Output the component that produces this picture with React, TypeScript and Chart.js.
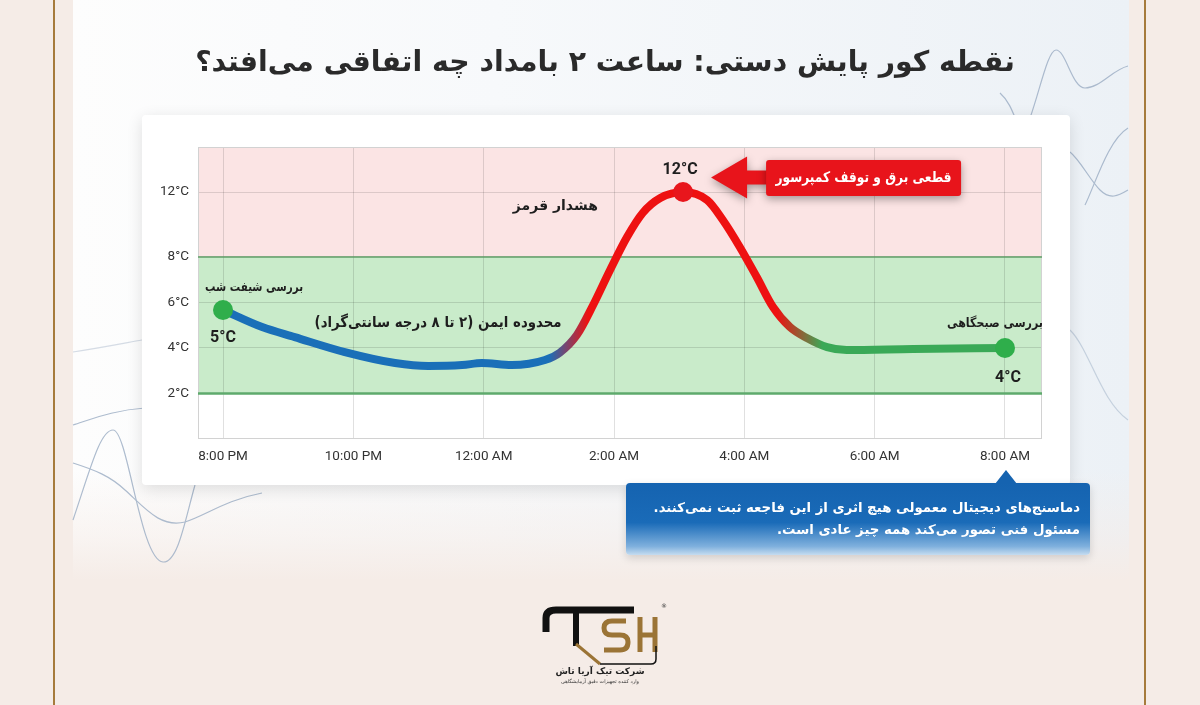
import React, { useEffect, useRef } from 'react';
import { Chart, registerables, LinearScale } from 'chart.js';

// ---------- data ----------
const hours = [0, 0.6, 1.1, 1.87, 2.64, 3.15, 3.67, 3.97, 4.43, 4.94, 5.17, 5.43, 5.68, 5.94, 6.2, 6.44, 6.71, 7.06, 7.43, 7.67, 7.93, 8.19, 8.44, 8.7, 8.96, 9.27, 9.57, 10.59, 12];
const temps = [5.67, 4.92, 4.48, 3.82, 3.34, 3.21, 3.25, 3.34, 3.25, 3.47, 3.8, 4.57, 5.89, 7.43, 9.23, 10.71, 11.63, 12.0, 11.5, 10.28, 8.62, 7.12, 5.8, 4.92, 4.44, 4.04, 3.91, 3.96, 4.0];
const markedIndices = [0, 17, 28];
const markedColors = ['#2fae4b', '#e8161c', '#2fae4b'];

const xTickValues = [0, 2, 4, 6, 8, 10, 12];
const xTickLabels = ['8:00 PM', '10:00 PM', '12:00 AM', '2:00 AM', '4:00 AM', '6:00 AM', '8:00 AM'];
const yTickValues = [2, 4, 6, 8, 12];
const yTickLabels = ['2°C', '4°C', '6°C', '8°C', '12°C'];

const safeMin = 2;
const safeMax = 8;

// axis break: the red (alarm) part of the axis is compressed
const yBreakValues = [0, 8, 14.77];
const yBreakFractions = [0, 0.6233, 1];

const titleText = 'نقطه کور پایش دستی: ساعت ۲ بامداد چه اتفاقی می‌افتد؟';
const startLabel = 'بررسی شیفت شب';
const startValueLabel = '5°C';
const safeZoneLabel = 'محدوده ایمن (۲ تا ۸ درجه سانتی‌گراد)';
const alarmZoneLabel = 'هشدار قرمز';
const peakValueLabel = '12°C';
const peakCallout = 'قطعی برق و توقف کمپرسور';
const endLabel = 'بررسی صبحگاهی';
const endValueLabel = '4°C';
const noteLines = [
  'دماسنج‌های دیجیتال معمولی هیچ اثری از این فاجعه ثبت نمی‌کنند.',
  'مسئول فنی تصور می‌کند همه چیز عادی است.',
];

// ---------- custom broken linear scale ----------
function valueToFraction(v: number): number {
  for (let i = 1; i < yBreakValues.length; i++) {
    if (v <= yBreakValues[i] || i === yBreakValues.length - 1) {
      const v0 = yBreakValues[i - 1], v1 = yBreakValues[i];
      const f0 = yBreakFractions[i - 1], f1 = yBreakFractions[i];
      return f0 + ((v - v0) / (v1 - v0)) * (f1 - f0);
    }
  }
  return 0;
}
function fractionToValue(f: number): number {
  for (let i = 1; i < yBreakFractions.length; i++) {
    if (f <= yBreakFractions[i] || i === yBreakFractions.length - 1) {
      const v0 = yBreakValues[i - 1], v1 = yBreakValues[i];
      const f0 = yBreakFractions[i - 1], f1 = yBreakFractions[i];
      return v0 + ((f - f0) / (f1 - f0)) * (v1 - v0);
    }
  }
  return 0;
}

class BrokenLinearScale extends LinearScale {
  static id = 'brokenLinear';
  static defaults = LinearScale.defaults;
  getPixelForValue(value: number) {
    return this.getPixelForDecimal(valueToFraction(value));
  }
  getValueForPixel(pixel: number) {
    return fractionToValue(this.getDecimalForPixel(pixel));
  }
}

Chart.register(...registerables, BrokenLinearScale as any);

const PERSIAN_FONT = '"DejaVu Sans", "Noto Sans", sans-serif';
const LATIN_FONT = 'Roboto, "Liberation Sans", sans-serif';

const zonesPlugin = {
  id: 'zones',
  beforeDraw(chart: any) {
    const { ctx, chartArea, scales } = chart;
    const { left, right, top } = chartArea;
    const y = scales.y;
    const y8 = y.getPixelForValue(safeMax);
    const y2 = y.getPixelForValue(safeMin);
    ctx.save();
    ctx.fillStyle = '#fbe4e4';
    ctx.fillRect(left, top, right - left, y8 - top);
    ctx.fillStyle = '#c9ebca';
    ctx.fillRect(left, y8, right - left, y2 - y8);
    ctx.restore();
  },
  beforeDatasetsDraw(chart: any) {
    const { ctx, chartArea, scales } = chart;
    const { left, right, top, bottom } = chartArea;
    const y = scales.y;
    const y8 = y.getPixelForValue(safeMax);
    const y2 = y.getPixelForValue(safeMin);
    ctx.save();
    ctx.strokeStyle = '#d2d2d2';
    ctx.lineWidth = 1;
    ctx.strokeRect(left + 0.5, top + 0.5, right - left - 1, bottom - top - 1);
    ctx.strokeStyle = '#5f9f67';
    ctx.lineWidth = 1.6;
    ctx.beginPath();
    ctx.moveTo(left, y8);
    ctx.lineTo(right, y8);
    ctx.stroke();
    ctx.strokeStyle = '#5eaa6c';
    ctx.lineWidth = 2.5;
    ctx.beginPath();
    ctx.moveTo(left, y2);
    ctx.lineTo(right, y2);
    ctx.stroke();
    ctx.restore();
  },
  afterDatasetsDraw(chart: any) {
    const { ctx, scales } = chart;
    const x = scales.x;
    const y = scales.y;
    const px = (i: number) => x.getPixelForValue(hours[i]);
    const py = (i: number) => y.getPixelForValue(temps[i]);
    const iStart = markedIndices[0];
    const iPeak = markedIndices[1];
    const iEnd = markedIndices[2];

    const text = (t: string, cx: number, cy: number, size: number, rtl: boolean, maxW?: number, color = '#1e1e1e') => {
      ctx.save();
      ctx.font = `bold ${size}px ${rtl ? PERSIAN_FONT : LATIN_FONT}`;
      ctx.direction = rtl ? 'rtl' : 'ltr';
      ctx.textAlign = 'center';
      ctx.textBaseline = 'middle';
      ctx.fillStyle = color;
      if (maxW) ctx.fillText(t, cx, cy, maxW);
      else ctx.fillText(t, cx, cy);
      ctx.restore();
    };

    text(startLabel, px(iStart) + 31, py(iStart) - 22, 13, true, 98);
    text(startValueLabel, px(iStart), py(iStart) + 28, 16, false);
    text(safeZoneLabel, x.getPixelForValue(3.3), y.getPixelForValue(5.1), 15, true, 247);
    text(alarmZoneLabel, x.getPixelForValue(5.1), y.getPixelForValue(11.14), 14, true, 90);
    text(peakValueLabel, px(iPeak) - 3, py(iPeak) - 22, 16, false);
    text(endLabel, px(iEnd) - 10, py(iEnd) - 24, 13, true, 96);
    text(endValueLabel, px(iEnd) + 3, py(iEnd) + 30, 16, false);

    // red arrow callout
    const tx = px(iPeak) + 28;
    const ty = py(iPeak) - 14.5;
    const bx = tx + 55;
    const bw = 195;
    ctx.save();
    ctx.fillStyle = '#e8141b';
    ctx.shadowColor = 'rgba(0,0,0,0.35)';
    ctx.shadowBlur = 9;
    ctx.shadowOffsetY = 3;
    ctx.beginPath();
    ctx.moveTo(tx, ty);
    ctx.lineTo(tx + 36, ty - 21);
    ctx.lineTo(tx + 36, ty - 7);
    ctx.lineTo(bx + 4, ty - 7);
    ctx.lineTo(bx + 4, ty + 7);
    ctx.lineTo(tx + 36, ty + 7);
    ctx.lineTo(tx + 36, ty + 21);
    ctx.closePath();
    ctx.fill();
    ctx.beginPath();
    (ctx as any).roundRect(bx, ty - 17.5, bw, 36, 3);
    ctx.fill();
    ctx.restore();
    text(peakCallout, bx + bw / 2, ty + 0.5, 14.5, true, 176, '#ffffff');
  },
};

let gradientCache: any = null;
function curveColor(context: any) {
  const chart = context.chart;
  const { chartArea, scales } = chart;
  if (!chartArea || !scales.x) return '#1a6fb8';
  const x = scales.x;
  const x0 = x.getPixelForValue(hours[0]);
  const x1 = x.getPixelForValue(hours[hours.length - 1]);
  const key = `${x0}-${x1}`;
  if (gradientCache && gradientCache.key === key) return gradientCache.g;
  const g = chart.ctx.createLinearGradient(x0, 0, x1, 0);
  const f = (h: number) => (h - hours[0]) / (hours[hours.length - 1] - hours[0]);
  g.addColorStop(0, '#1a6fb8');
  g.addColorStop(f(5.0), '#1a6fb8');
  g.addColorStop(f(5.6), '#ee1111');
  g.addColorStop(f(8.5), '#ee1111');
  g.addColorStop(f(9.2), '#3aa957');
  g.addColorStop(1, '#3aa957');
  gradientCache = { key, g };
  return g;
}

function TempChart() {
  const canvasRef = useRef<HTMLCanvasElement | null>(null);
  useEffect(() => {
    if (!canvasRef.current) return;
    const chart = new Chart(canvasRef.current, {
      type: 'line',
      data: {
        datasets: [
          {
            data: hours.map((h, i) => ({ x: h, y: temps[i] })),
            borderColor: curveColor,
            borderWidth: 8,
            borderCapStyle: 'round',
            borderJoinStyle: 'round',
            cubicInterpolationMode: 'monotone',
            fill: false,
            pointRadius: (c: any) => (markedIndices.includes(c.dataIndex) ? 10 : 0),
            pointHoverRadius: (c: any) => (markedIndices.includes(c.dataIndex) ? 10 : 0),
            pointBackgroundColor: (c: any) => {
              const k = markedIndices.indexOf(c.dataIndex);
              return k >= 0 ? markedColors[k] : 'transparent';
            },
            pointBorderWidth: 0,
          } as any,
        ],
      },
      options: {
        animation: false,
        responsive: false,
        maintainAspectRatio: false,
        layout: { padding: { top: 32, right: 28, left: 0, bottom: 0 } },
        plugins: { legend: { display: false }, tooltip: { enabled: false }, title: { display: false } },
        scales: {
          x: {
            type: 'linear',
            min: -0.384,
            max: 12.568,
            afterBuildTicks: (s: any) => {
              s.ticks = xTickValues.map((v) => ({ value: v }));
            },
            afterFit: (s: any) => {
              s.height = 46;
            },
            ticks: {
              callback: (v: any) => {
                const k = xTickValues.indexOf(Number(v));
                return k >= 0 ? xTickLabels[k] : '';
              },
              color: '#333333',
              font: { family: LATIN_FONT, size: 13.5 },
              padding: 10,
              maxRotation: 0,
              autoSkip: false,
            },
            grid: { color: 'rgba(0,0,0,0.12)', drawTicks: false, lineWidth: 1 },
            border: { display: false },
          },
          y: {
            type: 'brokenLinear' as any,
            min: yBreakValues[0],
            max: yBreakValues[yBreakValues.length - 1],
            afterBuildTicks: (s: any) => {
              s.ticks = yTickValues.map((v) => ({ value: v }));
            },
            afterFit: (s: any) => {
              s.width = 56;
            },
            ticks: {
              callback: (v: any) => {
                const k = yTickValues.indexOf(Number(v));
                return k >= 0 ? yTickLabels[k] : '';
              },
              color: '#333333',
              font: { family: LATIN_FONT, size: 13.5 },
              padding: 9,
              autoSkip: false,
            },
            grid: { color: 'rgba(0,0,0,0.12)', drawTicks: false, lineWidth: 1 },
            border: { display: false },
          },
        },
      } as any,
      plugins: [zonesPlugin],
    });
    return () => chart.destroy();
  }, []);
  return <canvas ref={canvasRef} width={928} height={370} style={{ width: 928, height: 370, display: 'block' }} />;
}

function Decor() {
  const stroke = '#9fb0c6';
  return (
    <svg width={1200} height={705} style={{ position: 'absolute', left: 0, top: 0 }}>
      <g fill="none" stroke={stroke} strokeWidth={1.2} opacity={0.85}>
        <path d="M73,425 C95,418 115,410 145,408" />
        <path d="M73,520 C90,470 100,430 113,430 C128,430 140,560 163,562 C178,563 185,520 195,485" />
        <path d="M73,463 C95,470 110,476 125,490 C145,508 160,528 185,522 C205,516 225,500 262,493" />
        <path d="M73,352 C100,348 120,344 142,340" opacity={0.5} />
        <path d="M1000,93 C1008,100 1012,110 1016,120" />
        <path d="M1030,118 C1040,90 1048,50 1056,50 C1066,50 1072,88 1085,88 C1100,88 1112,70 1128,66" />
        <path d="M1070,152 C1080,160 1090,180 1100,190 C1110,200 1118,196 1128,190" />
        <path d="M1085,205 C1095,185 1108,140 1128,128" />
        <path d="M1070,330 C1090,350 1100,400 1128,420" opacity={0.6} />
      </g>
    </svg>
  );
}

function Logo() {
  const gold = '#9b7436';
  return (
    <svg width={1200} height={705} style={{ position: 'absolute', left: 0, top: 0 }}>
      <g fill="none" strokeLinecap="butt">
        <path d="M546,632 L546,618 Q546,610 556,610 L634,610" stroke="#111" strokeWidth={7} />
        <path d="M576,613 L576,646" stroke="#111" strokeWidth={6} />
        <path d="M576,644 L600,664" stroke={gold} strokeWidth={3} />
        <path d="M626,621 L612,621 Q604,621 604,628 Q604,635 612,635 L620,635 Q628,635 628,642 Q628,650 620,650 L604,650" stroke={gold} strokeWidth={5} />
        <path d="M640,617 L640,652 M655,617 L655,652 M640,635 L655,635" stroke={gold} strokeWidth={5} />
        <path d="M600,664 L651,664 Q656,664 656,659 L656,646" stroke="#111" strokeWidth={1.5} />
      </g>
      <text x={661} y={608} fontSize={6} fill="#333" fontFamily="DejaVu Sans">®</text>
      <text x={600} y={674} fontSize={9} fontWeight="bold" fill="#222" textAnchor="middle" fontFamily={PERSIAN_FONT} direction="rtl">شرکت تیک آریا تاش</text>
      <text x={600} y={683} fontSize={5} fill="#333" textAnchor="middle" fontFamily={PERSIAN_FONT} direction="rtl">وارد کننده تجهیزات دقیق آزمایشگاهی</text>
    </svg>
  );
}

export default function App() {
  return (
    <div style={{ position: 'absolute', left: 0, top: 0, width: 1200, height: 705, overflow: 'hidden', background: '#f5ece7' }}>
      <div style={{ position: 'absolute', left: 53, top: 0, width: 2, height: 705, background: '#a67b3c' }} />
      <div style={{ position: 'absolute', left: 1144, top: 0, width: 2, height: 705, background: '#a67b3c' }} />
      <div
        style={{
          position: 'absolute',
          left: 73,
          top: 0,
          width: 1056,
          height: 580,
          background: 'linear-gradient(to right, #fdfdfd 0%, #f7f9fb 40%, #ecf1f6 100%)',
        }}
      />
      <div
        style={{
          position: 'absolute',
          left: 73,
          top: 470,
          width: 1056,
          height: 110,
          background: 'linear-gradient(to bottom, rgba(245,236,231,0) 0%, rgba(245,236,231,0.5) 60%, #f5ece7 100%)',
        }}
      />
      <Decor />
      <div
        dir="rtl"
        style={{
          position: 'absolute',
          left: 0,
          top: 40,
          width: 1210,
          textAlign: 'center',
          fontFamily: PERSIAN_FONT,
          fontWeight: 'bold',
          fontSize: 28.3,
          lineHeight: '44px',
          color: '#2a2a2a',
          whiteSpace: 'nowrap',
        }}
      >
        {titleText}
      </div>
      <div
        style={{
          position: 'absolute',
          left: 142,
          top: 115,
          width: 928,
          height: 370,
          background: '#ffffff',
          borderRadius: 4,
          boxShadow: '0 4px 16px rgba(0,0,0,0.12)',
        }}
      >
        <TempChart />
      </div>
      <div
        style={{
          position: 'absolute',
          left: 626,
          top: 483,
          width: 464,
          height: 72,
          borderRadius: 4,
          background: 'linear-gradient(to bottom, #1563b0 0%, #1a6bb8 55%, #7fb0dd 88%, #c5dcf0 100%)',
          boxShadow: '0 3px 8px rgba(0,0,0,0.15)',
        }}
      >
        <div
          style={{
            position: 'absolute',
            left: 369,
            top: -13,
            width: 0,
            height: 0,
            borderLeft: '11px solid transparent',
            borderRight: '11px solid transparent',
            borderBottom: '14px solid #1563b0',
          }}
        />
        <div
          dir="rtl"
          style={{
            position: 'absolute',
            right: 10,
            top: 14,
            width: 450,
            textAlign: 'right',
            fontFamily: PERSIAN_FONT,
            fontWeight: 'bold',
            fontSize: 13.3,
            lineHeight: '22px',
            color: '#ffffff',
            whiteSpace: 'nowrap',
          }}
        >
          <div>{noteLines[0]}</div>
          <div>{noteLines[1]}</div>
        </div>
      </div>
      <Logo />
    </div>
  );
}
